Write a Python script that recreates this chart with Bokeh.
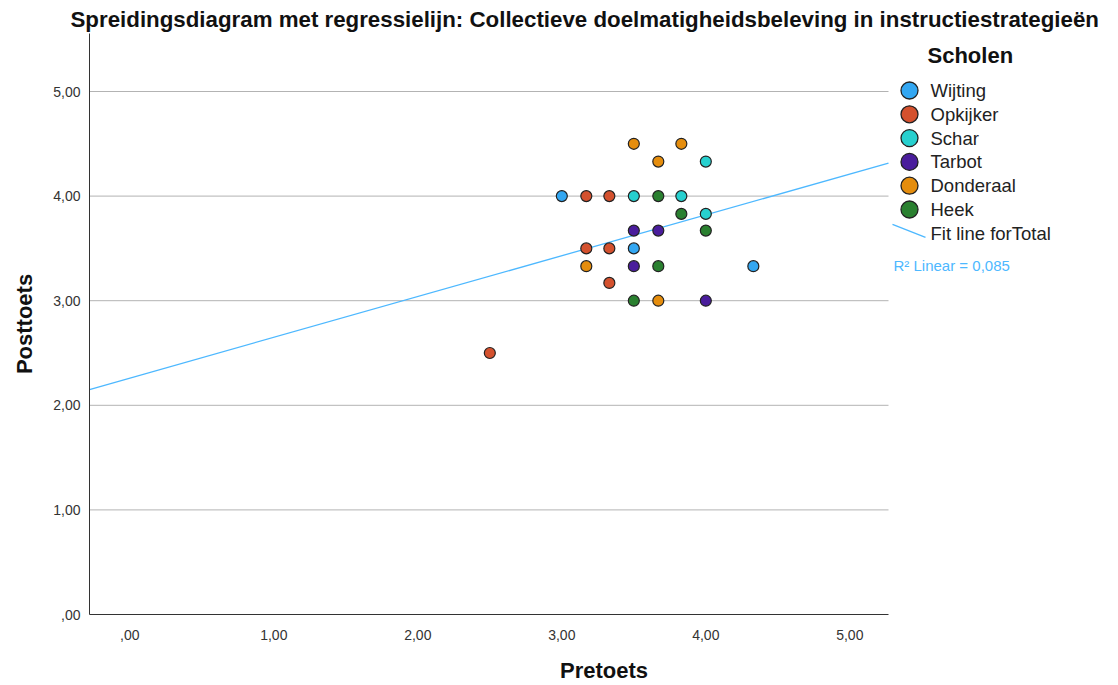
from bokeh.plotting import figure
from bokeh.models import Range1d, FixedTicker
from bokeh.core.properties import value
from bokeh.embed import file_html
from bokeh.resources import INLINE

title_text = "Spreidingsdiagram met regressielijn: Collectieve doelmatigheidsbeleving in instructiestrategieën"
x_label = "Pretoets"
y_label = "Posttoets"
legend_title = "Scholen"
schools = ["Wijting", "Opkijker", "Schar", "Tarbot", "Donderaal", "Heek"]
school_colors = ["#33a7f2", "#d4512e", "#27d0cf", "#4a1d9c", "#e58d0d", "#2a8030"]

wijting_pre = [3.00, 3.50, 4.33]
wijting_post = [4.00, 3.50, 3.33]
opkijker_pre = [3.17, 3.33, 3.17, 3.33, 3.33, 2.50]
opkijker_post = [4.00, 4.00, 3.50, 3.50, 3.17, 2.50]
schar_pre = [3.50, 3.83, 4.00, 4.00]
schar_post = [4.00, 4.00, 4.33, 3.83]
tarbot_pre = [3.50, 3.67, 3.50, 4.00]
tarbot_post = [3.67, 3.67, 3.33, 3.00]
donderaal_pre = [3.50, 3.83, 3.67, 3.17, 3.67]
donderaal_post = [4.50, 4.50, 4.33, 3.33, 3.00]
heek_pre = [3.67, 3.83, 4.00, 3.67, 3.50]
heek_post = [4.00, 3.83, 3.67, 3.33, 3.00]

fit_intercept = 2.26
fit_slope = 0.39
fit_label = "Fit line forTotal"
r2_text = "R\u00b2 Linear = 0,085"

tick_values = [0, 1, 2, 3, 4, 5]
tick_labels = [",00", "1,00", "2,00", "3,00", "4,00", "5,00"]

pre_series = [wijting_pre, opkijker_pre, schar_pre, tarbot_pre, donderaal_pre, heek_pre]
post_series = [wijting_post, opkijker_post, schar_post, tarbot_post, donderaal_post, heek_post]

# ---- layout geometry (pixels) ----
W, H = 1118, 685
F_LEFT, F_TOP, F_BOTTOM = 89, 33, 614
PLOT_RIGHT = 888          # where the data area (axis line, grid) ends
PX_PER_X, PX_PER_Y = 144.0, 104.6
X0 = -0.28
Y0 = 0.0

def dx(px):
    return X0 + (px - F_LEFT) / PX_PER_X

def dy(py):
    return Y0 + (F_BOTTOM - py) / PX_PER_Y

X_DATA_END = dx(PLOT_RIGHT)
FONT = "Liberation Sans"
FIT_COLOR = "#4db8ff"

p = figure(width=W, height=H, output_backend="svg", toolbar_location=None,
           x_range=Range1d(X0, dx(W)), y_range=Range1d(Y0, dy(F_TOP)),
           min_border_left=F_LEFT, min_border_right=0, min_border_top=F_TOP,
           min_border_bottom=H - F_BOTTOM)

p.title.text = title_text
p.title.text_font = FONT
p.title.text_font_size = "22.3px"
p.title.text_font_style = "bold"
p.title.text_color = "#111111"
p.title.align = "left"
p.title.offset = -19
p.title.standoff = 4

p.outline_line_color = None
p.background_fill_color = "white"
p.border_fill_color = "white"
p.xgrid.visible = False
p.ygrid.visible = False

for ax in (p.xaxis[0], p.yaxis[0]):
    ax.ticker = FixedTicker(ticks=tick_values)
    ax.major_label_overrides = {v: l for v, l in zip(tick_values, tick_labels)}
    ax.major_tick_line_color = None
    ax.minor_tick_line_color = None
    ax.axis_line_color = "#333333"
    ax.axis_line_width = 1
    ax.major_label_text_font = FONT
    ax.major_label_text_font_size = "14px"
    ax.major_label_text_color = "#333333"
    ax.axis_label_text_font = FONT
    ax.axis_label_text_font_size = "22px"
    ax.axis_label_text_font_style = "bold"
    ax.axis_label_text_color = "#111111"

p.xaxis.bounds = (X0, X_DATA_END)
p.xaxis.axis_label = x_label
p.yaxis.axis_label = y_label
p.xaxis.major_label_standoff = 9
p.xaxis.axis_label_standoff = 15
p.yaxis.major_label_standoff = 3
p.yaxis.axis_label_standoff = 13

# horizontal grid lines limited to the data area
grid_y = tick_values[1:]
p.segment(x0=[X0] * len(grid_y), x1=[X_DATA_END] * len(grid_y), y0=grid_y, y1=grid_y,
          line_color="#b3b3b3", line_width=1)

# regression line
p.line([X0, X_DATA_END], [fit_intercept + fit_slope * X0, fit_intercept + fit_slope * X_DATA_END],
       line_color=FIT_COLOR, line_width=1.3)

for col, xs, ys in zip(school_colors, pre_series, post_series):
    p.scatter(xs, ys, size=11, fill_color=col, line_color="#222222", line_width=1.2)

# ---- legend (drawn to the right of the data area) ----
ROW0, ROW_STEP = 90, 23.8
row_y = [dy(ROW0 + ROW_STEP * i) for i in range(len(schools))]
p.text(x=[dx(927)], y=[dy(55)], text=[legend_title], text_font=value(FONT),
       text_font_size="22px", text_font_style="bold", text_baseline="middle",
       text_color="#111111")
p.scatter([dx(909)] * len(schools), row_y, size=17, fill_color=school_colors,
          line_color="#222222", line_width=1.3)
p.text(x=[dx(930)] * len(schools), y=row_y, text=schools, text_font=value(FONT),
       text_font_size="18.5px", text_baseline="middle", text_color="#222222")
fit_row = ROW0 + ROW_STEP * len(schools)
p.segment(x0=[dx(892)], y0=[dy(fit_row - 9)], x1=[dx(925)], y1=[dy(fit_row + 4)],
          line_color=FIT_COLOR, line_width=1.3)
p.text(x=[dx(930)], y=[dy(fit_row)], text=[fit_label], text_font=value(FONT),
       text_font_size="18.5px", text_baseline="middle", text_color="#222222")
p.text(x=[dx(893)], y=[dy(265)], text=[r2_text], text_font=value(FONT),
       text_font_size="15px", text_baseline="middle", text_color=FIT_COLOR)

open("out.html", "w").write(file_html(p, INLINE))
